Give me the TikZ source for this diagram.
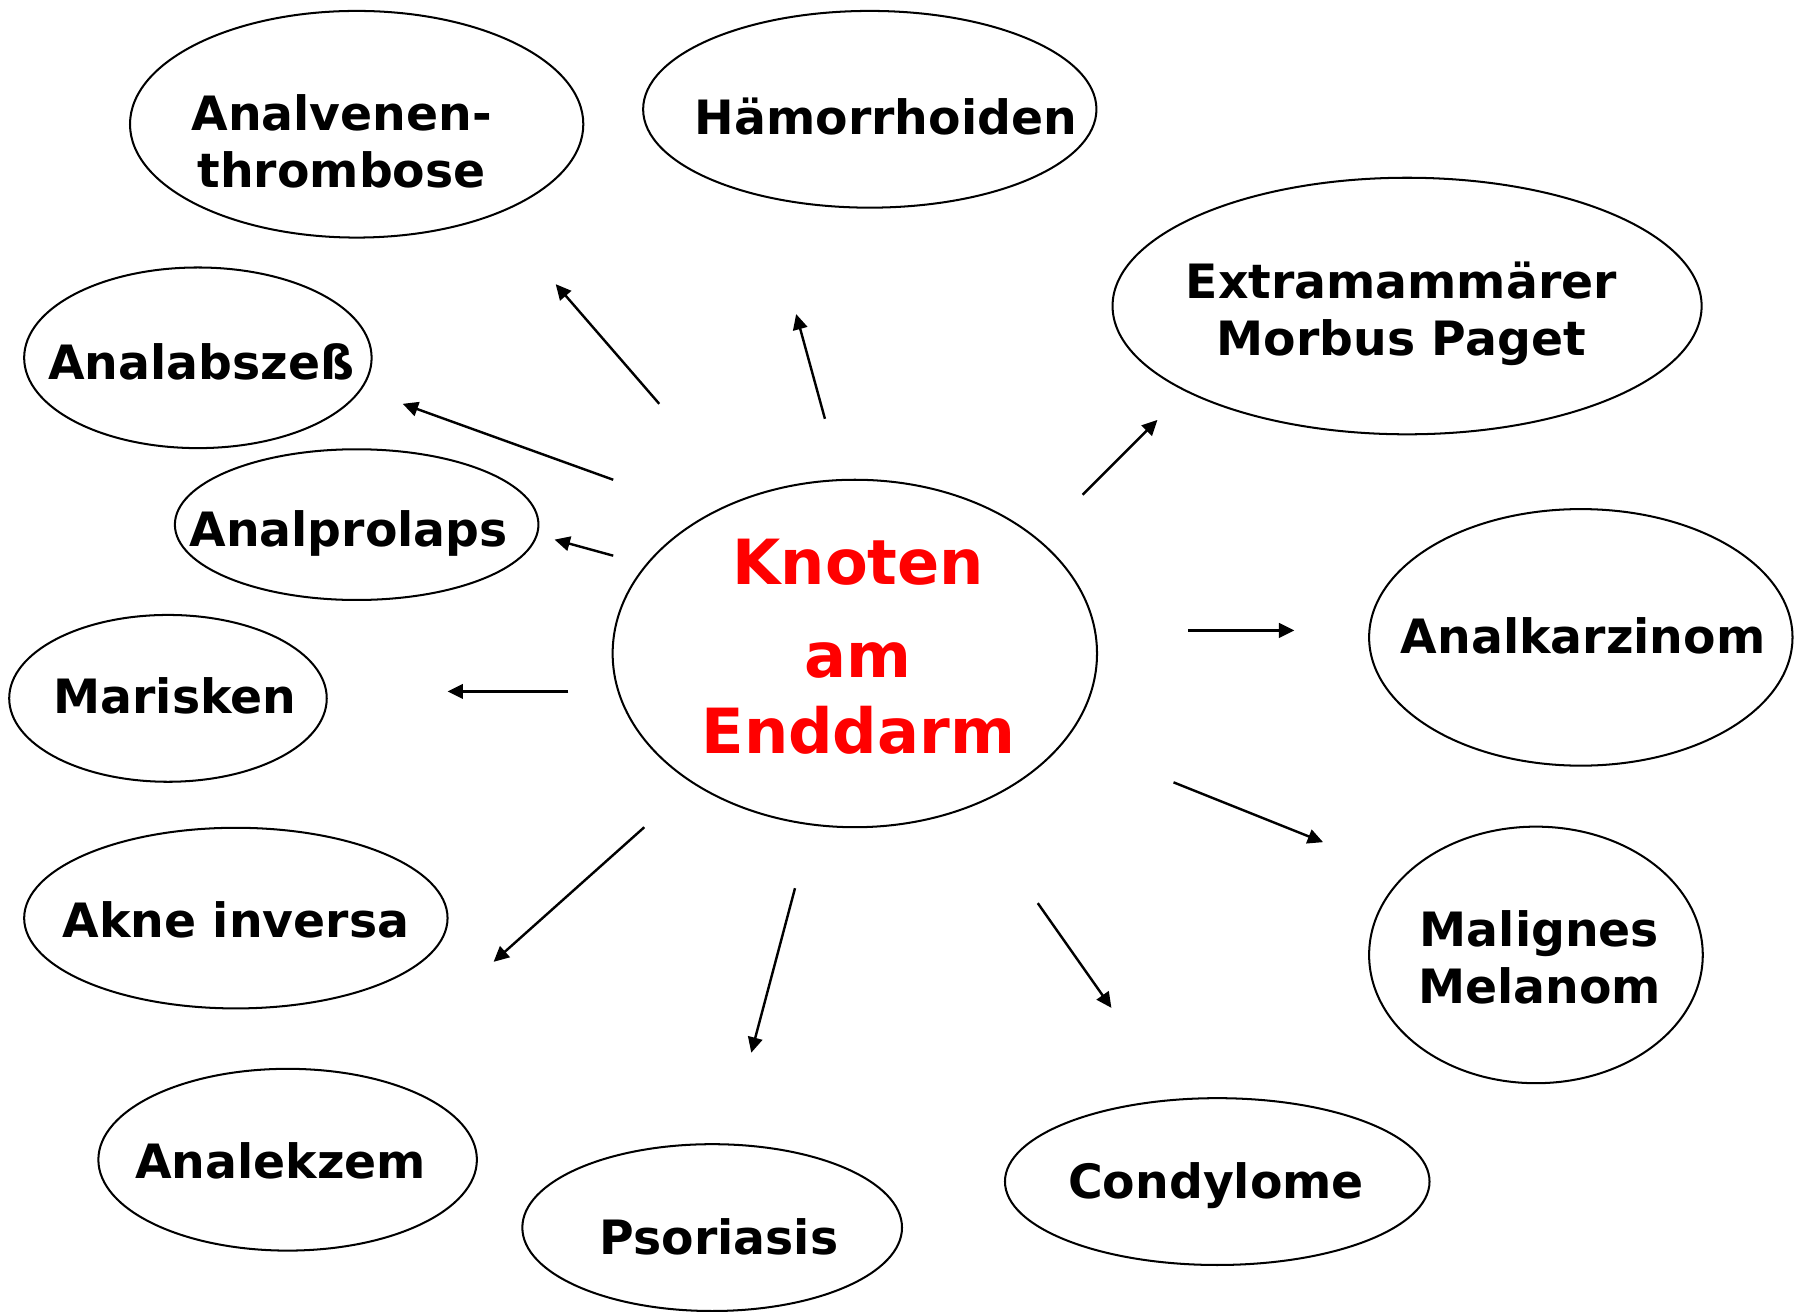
\documentclass[tikz,border=0pt]{standalone}
\usepackage{fontspec}
\setmainfont{DejaVu Sans}
\usetikzlibrary{arrows.meta,shapes.geometric}

\begin{document}
\begin{tikzpicture}[
  bubble/.style={draw,ellipse,line width=0.5pt,inner sep=0pt},
  tag/.style={inner sep=0pt,align=center,font=\bfseries\fontsize{11.7}{14.2}\selectfont},
  pfeil/.style={line width=0.6pt,-{Triangle[length=3.8pt,width=3.6pt]}}]

% ------------------------------------------------ colors
\definecolor{kn_red}{RGB}{255,0,0} %#FF0000

\useasboundingbox (0,0) rectangle (15.68,11.40);

% ------------------------------------------------ ellipses
\node[bubble,minimum width=4.21cm,minimum height=3.02cm] (knoten) at (7.43,5.72) {};
\node[bubble,minimum width=3.94cm,minimum height=1.97cm] (venen)  at (3.10,10.32) {};
\node[bubble,minimum width=3.94cm,minimum height=1.71cm] (haemo)  at (7.56,10.45) {};
\node[bubble,minimum width=5.12cm,minimum height=2.23cm] (paget)  at (12.23,8.74) {};
\node[bubble,minimum width=3.02cm,minimum height=1.57cm] (abszess) at (1.72,8.29) {};
\node[bubble,minimum width=3.16cm,minimum height=1.31cm] (prolaps) at (3.10,6.84) {};
\node[bubble,minimum width=3.68cm,minimum height=2.23cm] (karzi)  at (13.74,5.86) {};
\node[bubble,minimum width=2.76cm,minimum height=1.45cm] (maris)  at (1.46,5.33) {};
\node[bubble,minimum width=3.68cm,minimum height=1.57cm] (akne)   at (2.05,3.42) {};
\node[bubble,minimum width=2.90cm,minimum height=2.23cm] (melan)  at (13.35,3.10) {};
\node[bubble,minimum width=3.29cm,minimum height=1.58cm] (ekzem)  at (2.50,1.32) {};
\node[bubble,minimum width=3.30cm,minimum height=1.45cm] (psori)  at (6.19,0.73) {};
\node[bubble,minimum width=3.69cm,minimum height=1.45cm] (condy)  at (10.58,1.13) {};

% ------------------------------------------------ texts
\node[tag,text=kn_red,font=\bfseries\fontsize{15.4}{18.7}\selectfont] (knoten-t) at (7.46,5.78) {Knoten\\[4.3pt]am\\Enddarm};
\node[tag] (venen-t)   at (2.97,10.17) {Analvenen-\\thrombose};
\node[tag,anchor=base] (haemo-t)   at (7.70,10.23) {Hämorrhoiden};
\node[tag] (paget-t)   at (12.18,8.67) {Extramammärer\\Morbus Paget};
\node[tag,anchor=base] (abszess-t) at (1.75,8.10) {Analabszeß};
\node[tag,anchor=base] (prolaps-t) at (3.03,6.65) {Analprolaps};
\node[tag,anchor=base] (karzi-t)   at (13.76,5.72) {Analkarzinom};
\node[tag,anchor=base] (maris-t)   at (1.52,5.20) {Marisken};
\node[tag,anchor=base] (akne-t)    at (2.05,3.25) {Akne inversa};
\node[tag] (melan-t)   at (13.38,3.08) {Malignes\\Melanom};
\node[tag,anchor=base] (ekzem-t)   at (2.44,1.16) {Analekzem};
\node[tag,anchor=base] (psori-t)   at (6.25,0.50) {Psoriasis};
\node[tag,anchor=base] (condy-t)   at (10.57,0.98) {Condylome};

% ------------------------------------------------ arrows
\coordinate (s1)  at (5.73,7.89);  \coordinate (t1)  at (4.83,8.93);
\coordinate (s2)  at (7.17,7.76);  \coordinate (t2)  at (6.92,8.67);
\coordinate (s3)  at (9.41,7.10);  \coordinate (t3)  at (10.06,7.75);
\coordinate (s4)  at (5.33,7.23);  \coordinate (t4)  at (3.50,7.89);
\coordinate (s5)  at (5.33,6.57);  \coordinate (t5)  at (4.82,6.71);
\coordinate (s6)  at (4.94,5.39);  \coordinate (t6)  at (3.89,5.39);
\coordinate (s7)  at (10.33,5.92); \coordinate (t7)  at (11.25,5.92);
\coordinate (s8)  at (10.20,4.60); \coordinate (t8)  at (11.50,4.08);
\coordinate (s9)  at (5.60,4.21);  \coordinate (t9)  at (4.29,3.04);
\coordinate (s10) at (6.91,3.68);  \coordinate (t10) at (6.53,2.25);
\coordinate (s11) at (9.02,3.55);  \coordinate (t11) at (9.66,2.64);

\foreach \i in {1,...,11}
  \draw[pfeil] (s\i) -- (t\i);

\end{tikzpicture}
\end{document}
